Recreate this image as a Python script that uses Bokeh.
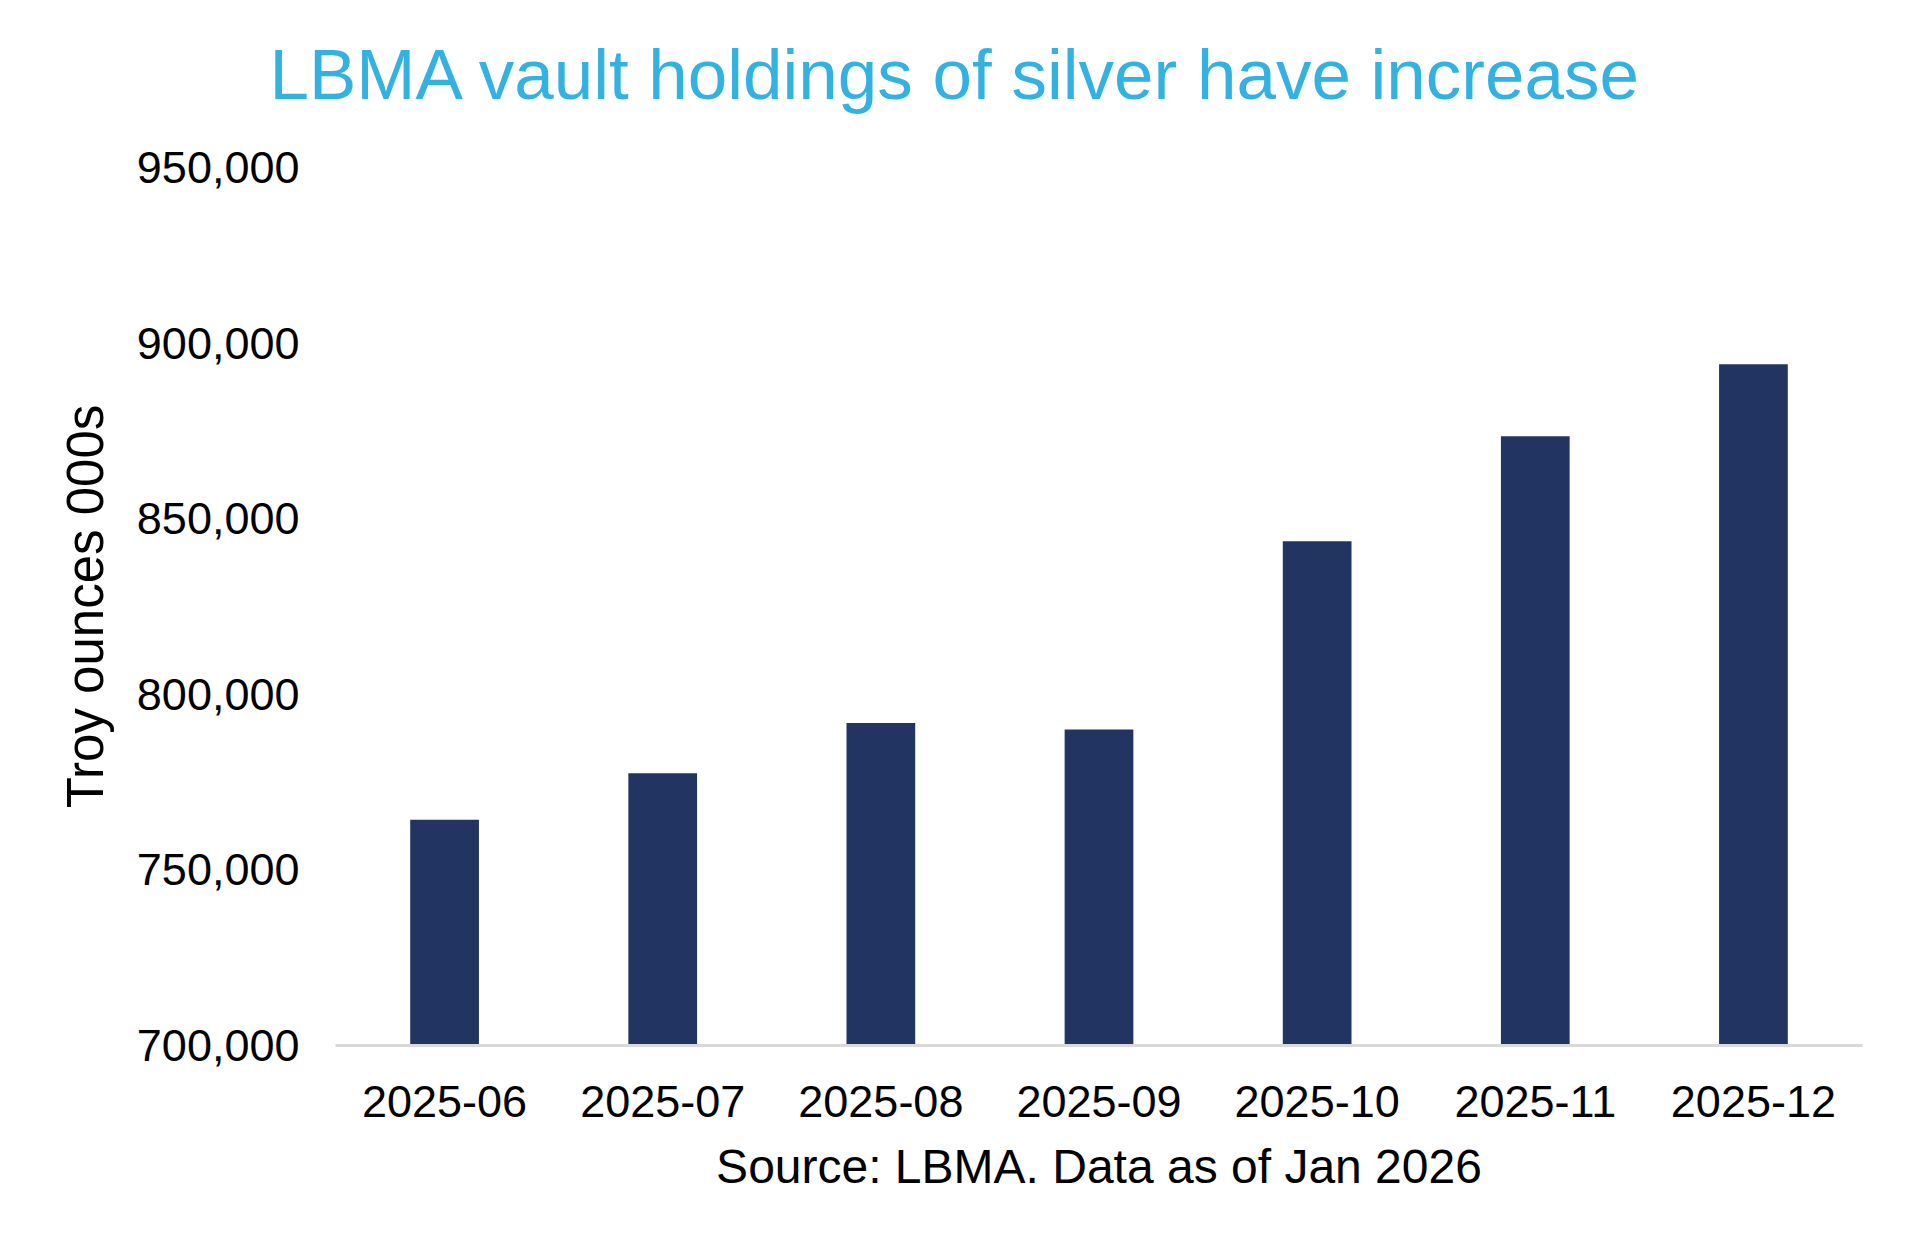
from bokeh.plotting import figure
from bokeh.models import NumeralTickFormatter, FixedTicker, Range1d, Title
from bokeh.embed import file_html
from bokeh.resources import INLINE

months = ["2025-06", "2025-07", "2025-08", "2025-09", "2025-10", "2025-11", "2025-12"]
holdings = [764300, 777500, 791800, 790000, 843600, 873500, 894000]
y_ticks = [700000, 750000, 800000, 850000, 900000, 950000]

FONT = "Liberation Sans"

p = figure(x_range=months, y_range=Range1d(y_ticks[0], y_ticks[-1]),
           width=1895, height=1235, output_backend="svg", toolbar_location=None,
           min_border_left=335, min_border_right=33, min_border_top=167, min_border_bottom=190)

p.vbar(x=months, top=holdings, bottom=y_ticks[0], width=0.315,
       fill_color="#223462", line_color=None)

# empty title between frame and heading, to lift the heading without moving the frame
spacer = Title(text=" ", text_font=FONT, text_font_size="46px", standoff=0)
p.add_layout(spacer, "above")

p.title.text = "LBMA vault holdings of silver have increase"
p.title.align = "left"
p.title.offset = -66
p.title.standoff = 0
p.title.text_font = FONT
p.title.text_font_size = "71px"
p.title.text_font_style = "normal"
p.title.text_color = "#33b2e2"

p.outline_line_color = None
p.xgrid.grid_line_color = None
p.ygrid.grid_line_color = None

p.yaxis.ticker = FixedTicker(ticks=y_ticks)
p.yaxis.formatter = NumeralTickFormatter(format="0,0")
p.yaxis.axis_label = "Troy ounces 000s"
p.yaxis.axis_line_color = None
p.yaxis.major_tick_line_color = None
p.yaxis.minor_tick_line_color = None
p.yaxis.major_label_standoff = 30
p.yaxis.axis_label_standoff = 20

p.xaxis.axis_label = "Source: LBMA. Data as of Jan 2026"
p.xaxis.axis_line_color = "#d9d9d9"
p.xaxis.axis_line_width = 3
p.xaxis.major_tick_line_color = None
p.xaxis.major_label_standoff = 34
p.xaxis.axis_label_standoff = 20

for ax in (p.xaxis, p.yaxis):
    ax.major_label_text_font = FONT
    ax.major_label_text_font_size = "45px"
    ax.major_label_text_color = "black"
    ax.axis_label_text_font = FONT
    ax.axis_label_text_font_size = "48px"
    ax.axis_label_text_font_style = "normal"
    ax.axis_label_text_color = "black"
p.yaxis.axis_label_text_font_size = "51px"

open("out.html", "w").write(file_html(p, INLINE))
